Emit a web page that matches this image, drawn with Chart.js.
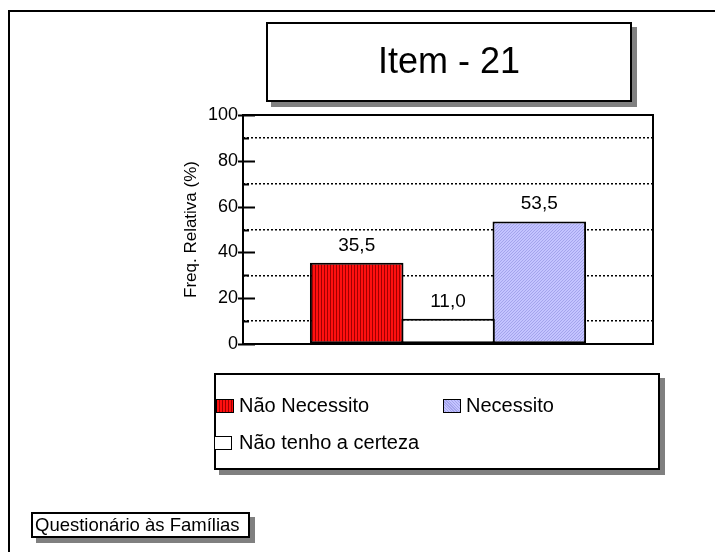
<!DOCTYPE html>
<html>
<head>
<meta charset="utf-8">
<script src="https://cdn.jsdelivr.net/npm/chart.js@4/dist/chart.umd.min.js"></script>
<style>
  body { margin: 0; background: #fff; font-family: "Liberation Sans", Arial, sans-serif; color: #000; }
  #wrap { position: relative; width: 715px; height: 552px; overflow: hidden; }
  #chart { position: absolute; left: 0; top: 0; }
  .frameTop { position: absolute; left: 9px; top: 10px; width: 706px; height: 2px; background: #000; }
  .frameLeft { position: absolute; left: 8px; top: 10px; width: 2px; height: 542px; background: #000; }
  .box { position: absolute; box-sizing: border-box; border: 2px solid #000; background: #fff; box-shadow: 5px 5px 0 #808080; }
  #titleBox { left: 266px; top: 22px; width: 366px; height: 80px; display: flex; align-items: center; justify-content: center; font-size: 36px; padding-bottom: 3px; }
  #legendBox { left: 214px; top: 373px; width: 446px; height: 97px; }
  #footBox { left: 31px; top: 512px; width: 219px; height: 26px; font-size: 18.5px; line-height: 22px; padding-left: 2px; white-space: nowrap; }
  .item { position: absolute; font-size: 20px; white-space: nowrap; }
  .swatch { position: absolute; box-sizing: border-box; width: 18px; height: 14px; border: 1.5px solid #000; }
</style>
</head>
<body>
<div id="wrap">
  <canvas id="chart" width="715" height="552"></canvas>
  <div class="frameTop"></div>
  <div class="frameLeft"></div>
  <div class="box" id="titleBox"></div>
  <div class="box" id="legendBox"></div>
  <div class="box" id="footBox"></div>
</div>
<script>
const chartTitle = 'Item - 21';
const footText = 'Questionário às Famílias';
const axisTitle = 'Freq. Relativa (%)';
const categories = [''];
const seriesLabels = ['Não Necessito', 'Não tenho a certeza', 'Necessito'];
const seriesValues = [35.5, 11.0, 53.5];
const yTicks = [0, 20, 40, 60, 80, 100];
const legendOrder = [0, 2, 1];

const makePattern = (draw) => {
  const c = document.createElement('canvas');
  c.width = 6; c.height = 6;
  draw(c.getContext('2d'));
  return c.getContext('2d').createPattern(c, 'repeat');
};

const redPattern = makePattern(ctx => {
  ctx.fillStyle = '#ff1010';
  ctx.fillRect(0, 0, 6, 6);
  ctx.fillStyle = '#a00000';
  ctx.fillRect(0, 0, 1, 6);
  ctx.fillRect(3, 0, 1, 6);
});

const bluePattern = makePattern(ctx => {
  ctx.fillStyle = '#c4c4ff';
  ctx.fillRect(0, 0, 6, 6);
  ctx.fillStyle = '#a4a4ec';
  for (let i = 0; i < 6; i++) {
    ctx.fillRect(i, 5 - i, 1, 1);
    ctx.fillRect((i + 3) % 6, 5 - i, 1, 1);
  }
});

const fills = [redPattern, '#ffffff', bluePattern];
const swatchCss = [
  'repeating-linear-gradient(90deg, #ff1010 0 2px, #a00000 2px 3px)',
  '#ffffff',
  'repeating-linear-gradient(45deg, #c4c4ff 0 1px, #a4a4ec 1px 2px)'
];

const fmt = v => v.toFixed(1).replace('.', ',');

// boxes with text
document.getElementById('titleBox').textContent = chartTitle;
document.getElementById('footBox').textContent = footText;

const legendSlots = [
  {sx: 2, sy: 24, tx: 25, ty: 20},
  {sx: 229, sy: 24, tx: 252, ty: 20},
  {sx: 0, sy: 61, tx: 25, ty: 57},
];
const legendBox = document.getElementById('legendBox');
legendOrder.forEach((idx, slot) => {
  const pos = legendSlots[slot];
  const sw = document.createElement('div');
  sw.className = 'swatch';
  sw.style.left = (pos.sx - 2) + 'px';
  sw.style.top = pos.sy + 'px';
  sw.style.background = swatchCss[idx];
  legendBox.appendChild(sw);
  const tx = document.createElement('div');
  tx.className = 'item';
  tx.style.left = (pos.tx - 2) + 'px';
  tx.style.top = (pos.ty - 1) + 'px';
  tx.textContent = seriesLabels[idx];
  legendBox.appendChild(tx);
});

const plotFrame = {
  id: 'plotFrame',
  afterDatasetsDraw(chart) {
    const {ctx, chartArea: a, scales: {y}} = chart;
    ctx.save();
    ctx.strokeStyle = '#000';
    ctx.lineWidth = 2;
    ctx.strokeRect(a.left, a.top, a.right - a.left, a.bottom - a.top);
    ctx.beginPath();
    yTicks.forEach(v => {
      const py = Math.round(y.getPixelForValue(v)) + 0.5;
      ctx.moveTo(a.left - 5, py);
      ctx.lineTo(a.left + 12, py);
    });
    ctx.stroke();
    ctx.beginPath();
    yTicks.slice(0, -1).forEach(v => {
      const py = Math.round(y.getPixelForValue(v + 10)) + 0.5;
      ctx.moveTo(a.left, py);
      ctx.lineTo(a.left + 6, py);
    });
    ctx.stroke();
    ctx.restore();
  }
};

const valueLabels = {
  id: 'valueLabels',
  afterDatasetsDraw(chart) {
    const {ctx} = chart;
    ctx.save();
    ctx.font = '19px "Liberation Sans", Arial, sans-serif';
    ctx.fillStyle = '#000';
    ctx.textAlign = 'center';
    ctx.textBaseline = 'alphabetic';
    chart.data.datasets.forEach((ds, i) => {
      chart.getDatasetMeta(i).data.forEach((bar, j) => {
        ctx.fillText(fmt(ds.data[j]), bar.x, bar.y - 12);
      });
    });
    ctx.restore();
  }
};

Chart.defaults.font.family = '"Liberation Sans", Arial, sans-serif';
Chart.defaults.color = '#000';

const config = {
  type: 'bar',
  data: {
    labels: categories,
    datasets: seriesLabels.map((label, i) => ({
      label: label,
      data: [seriesValues[i]],
      backgroundColor: fills[i],
      borderColor: '#000',
      borderWidth: 2,
      borderSkipped: false,
      categoryPercentage: 0.668,
      barPercentage: 1.025,
    }))
  },
  options: {
    responsive: false,
    animation: false,
    layout: {padding: {left: 173, top: 115, right: 62, bottom: 208}},
    plugins: {
      legend: {display: false},
      tooltip: {enabled: false},
    },
    scales: {
      x: {display: false},
      y: {
        min: 0,
        max: 100,
        afterFit: scale => { scale.width = 70; },
        ticks: {
          stepSize: 10,
          autoSkip: false,
          padding: 5,
          font: {size: 18},
          callback: v => yTicks.includes(v) ? v : '',
        },
        grid: {
          drawTicks: false,
          lineWidth: 1.5,
          color: ctx => ctx.tick && ctx.tick.value % 20 === 10 ? '#000' : 'rgba(0,0,0,0)',
        },
        border: {display: false, dash: [2, 2]},
        title: {
          display: true,
          text: axisTitle,
          font: {size: 17},
          padding: {top: 8, bottom: 0},
        },
      },
    },
  },
  plugins: [plotFrame, valueLabels],
};

new Chart(document.getElementById('chart'), config);
</script>
</body>
</html>
